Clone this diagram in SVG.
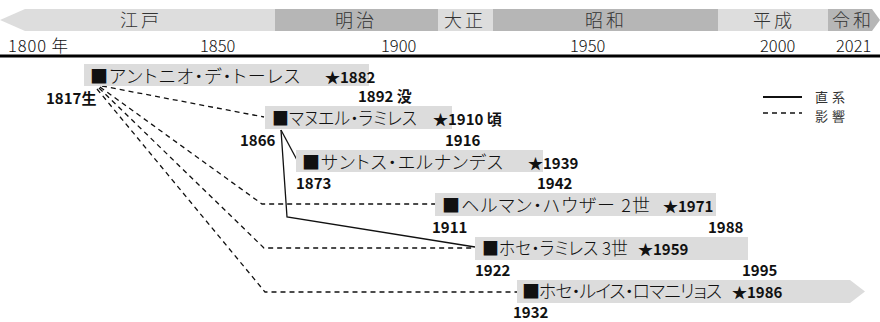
<svg xmlns="http://www.w3.org/2000/svg" width="880" height="322" viewBox="0 0 880 322">
<style>
.light{fill:#dddddd}
.dark{fill:#b6b6b6}
.bar{fill:#dcdcdc}
.era{font-family:"Noto Sans CJK JP","Noto Sans",sans-serif;font-size:18px;fill:#333;letter-spacing:3px;text-anchor:middle;font-weight:300}
.yr{font-family:"Noto Sans CJK JP","Noto Sans",sans-serif;font-size:16.5px;fill:#111;font-weight:300}
.nm{font-family:"Noto Sans CJK JP",sans-serif;font-size:18px;fill:#111;font-feature-settings:"palt";font-weight:300}
.num{font-family:"Noto Sans CJK JP","Noto Sans",sans-serif;font-size:15px;font-weight:bold;fill:#111}
.leg{font-family:"Noto Sans CJK JP",sans-serif;font-size:13px;fill:#333;letter-spacing:4px}
.solid{fill:none;stroke:#111;stroke-width:1.3}
.dash{fill:none;stroke:#111;stroke-width:1.3;stroke-dasharray:5 4}
</style>
<g id="timeline">
<polygon class="light" points="0,20 25,9 275,9 275,31 25,31"/>
<rect class="dark" x="275" y="9" width="163" height="22"/>
<rect class="light" x="438" y="9" width="55" height="22"/>
<rect class="dark" x="493" y="9" width="225" height="22"/>
<rect class="light" x="718" y="9" width="110" height="22"/>
<polygon class="dark" points="828,9 872,9 880,20 872,31 828,31"/>
<text class="era" x="141" y="27">江戸</text>
<text class="era" x="356" y="27">明治</text>
<text class="era" x="465" y="27">大正</text>
<text class="era" x="606" y="27">昭和</text>
<text class="era" x="774" y="27">平成</text>
<text class="era" x="853" y="27">令和</text>
<text class="yr" x="8" y="52" textLength="60">1800 年</text>
<text class="yr" x="200" y="52">1850</text>
<text class="yr" x="381" y="52">1900</text>
<text class="yr" x="570" y="52">1950</text>
<text class="yr" x="760" y="52">2000</text>
<text class="yr" x="836" y="52">2021</text>
<line x1="0" y1="56" x2="880" y2="56" stroke="#000" stroke-width="3"/>
</g>
<g id="connectors">
<path class="dash" d="M102,86 L264,117"/>
<path class="dash" d="M100,87 L262,204 L435,204"/>
<path class="dash" d="M99,88 L264,248 L475,248"/>
<path class="dash" d="M97,89 L265,292 L517,292"/>
<path class="solid" d="M281,130 L297,160"/>
<path class="solid" d="M281,130 L287,217 L475,247"/>
</g>
<g id="antonio">
<rect class="bar" x="84" y="64" width="285" height="22"/>
<text class="nm" x="90" y="83" textLength="210">■アントニオ・デ・トーレス</text>
<text class="num" x="325" y="83">★1882</text>
<text class="num" x="46" y="104">1817生</text>
<text class="num" x="358" y="102">1892 没</text>
</g>
<g id="manuel">
<rect class="bar" x="265" y="106" width="187" height="23"/>
<text class="nm" x="272" y="125" textLength="145" lengthAdjust="spacingAndGlyphs">■マヌエル・ラミレス</text>
<text class="num" x="433" y="125">★1910 頃</text>
<text class="num" x="240" y="146">1866</text>
<text class="num" x="445" y="146">1916</text>
</g>
<g id="santos">
<rect class="bar" x="296" y="150" width="247" height="22"/>
<text class="nm" x="302" y="169" textLength="201">■サントス・エルナンデス</text>
<text class="num" x="528" y="169">★1939</text>
<text class="num" x="296" y="189">1873</text>
<text class="num" x="537" y="189">1942</text>
</g>
<g id="hermann">
<rect class="bar" x="435" y="193" width="281" height="23"/>
<text class="nm" x="442" y="212" textLength="208">■ヘルマン・ハウザー 2世</text>
<text class="num" x="663" y="212">★1971</text>
<text class="num" x="432" y="233">1911</text>
<text class="num" x="708" y="233">1988</text>
</g>
<g id="jose-ramirez">
<rect class="bar" x="475" y="237" width="273" height="23"/>
<text class="nm" x="482" y="255" textLength="146" lengthAdjust="spacingAndGlyphs">■ホセ・ラミレス 3世</text>
<text class="num" x="638" y="255">★1959</text>
<text class="num" x="475" y="276">1922</text>
<text class="num" x="742" y="276">1995</text>
</g>
<g id="jose-luis">
<polygon class="bar" points="517,280 850,280 865,291.5 850,303 517,303"/>
<text class="nm" x="522" y="298" textLength="200">■ホセ・ルイス・ロマニリョス</text>
<text class="num" x="732" y="298">★1986</text>
<text class="num" x="513" y="318">1932</text>
</g>
<g id="legend">
<line x1="763" y1="97" x2="802" y2="97" stroke="#111" stroke-width="2"/>
<line x1="763" y1="113" x2="802" y2="113" stroke="#111" stroke-width="1.3" stroke-dasharray="5 4"/>
<text class="leg" x="815" y="102">直系</text>
<text class="leg" x="815" y="121">影響</text>
</g>
</svg>
